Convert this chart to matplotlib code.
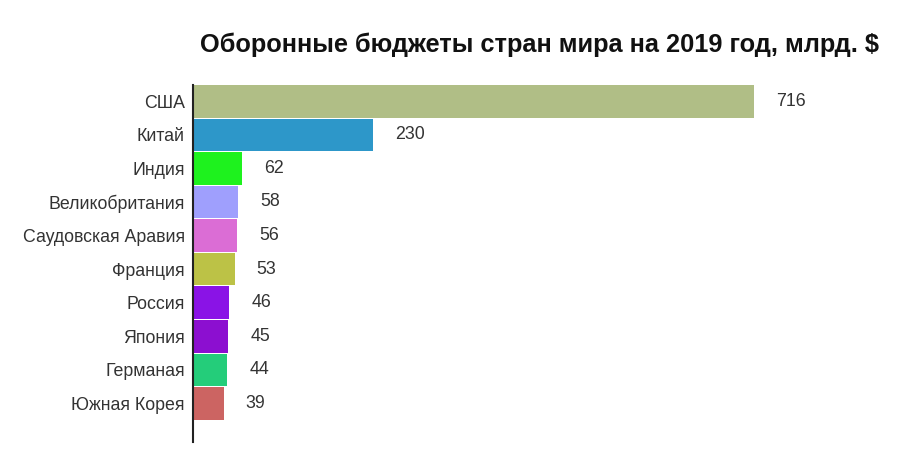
import matplotlib
matplotlib.use('Agg')
import matplotlib.pyplot as plt

countries = ['США', 'Китай', 'Индия', 'Великобритания', 'Саудовская Аравия',
             'Франция', 'Россия', 'Япония', 'Германая', 'Южная Корея']
budgets = [716, 230, 62, 58, 56, 53, 46, 45, 44, 39]
colors = ['#b0be86', '#2d97c9', '#1ef21e', '#9f9ffd', '#db6dd5',
          '#bcc246', '#8a13e6', '#8c0fd0', '#24cd7a', '#cc6462']

plt.rcParams['font.family'] = ['Liberation Sans', 'DejaVu Sans']

fig = plt.figure(figsize=(9.07, 4.65), dpi=100)
ax = fig.add_axes([193/907, 1-442/465, 694/907, (442-85)/465])

pos = list(range(len(countries)))
ax.barh(pos, budgets, height=0.97, color=colors)
for p, v in zip(pos, budgets):
    ax.annotate(str(v), (v, p), xytext=(16, 0), textcoords='offset points',
                ha='left', va='center', fontsize=12.8, color='#333333')

ax.set_yticks(pos)
ax.set_yticklabels(countries, fontsize=12.8, color='#333333')
ax.tick_params(axis='y', length=0, pad=6)
ax.set_xticks([])
ax.set_xlim(0, 886)
ax.set_ylim(10.15, -0.485)
for s in ['top', 'right', 'bottom']:
    ax.spines[s].set_visible(False)
ax.spines['left'].set_color('#222222')
ax.spines['left'].set_linewidth(1.5)

fig.text(540/907, 1-45/465, 'Оборонные бюджеты стран мира на 2019 год, млрд. $',
         ha='center', va='center', fontsize=18.3, fontweight='bold', color='#111111')

fig.savefig('out.png', dpi=100)
